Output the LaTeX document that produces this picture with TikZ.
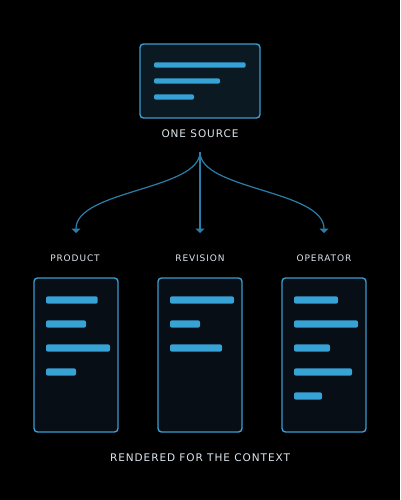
\documentclass[tikz,border=0pt]{standalone}
\usepackage{fontspec}
\setmainfont{DejaVu Sans}
\newfontfamily\lblA[LetterSpace=9]{DejaVu Sans}
\newfontfamily\lblB[LetterSpace=10]{DejaVu Sans}
\usetikzlibrary{arrows.meta}
\definecolor{bg}{HTML}{000000}
\definecolor{edge}{HTML}{3A9CCF}
\definecolor{barc}{HTML}{36A2D6}
\definecolor{conn}{HTML}{2C7DA8}
\definecolor{topfill}{HTML}{0B1A22}
\definecolor{botfill}{HTML}{070E15}
\definecolor{txt}{HTML}{DCE5EC}
\tikzset{
  card/.style={draw=edge, line width=1.4pt, rounded corners=3.5pt, inner sep=0pt},
  bar/.style={fill=barc, rounded corners=2pt},
  biglbl/.style={text=txt, font=\lblA\fontsize{10.5}{12}\selectfont, inner sep=0pt},
  smalllbl/.style={text=txt, font=\lblB\fontsize{9}{11}\selectfont, inner sep=0pt},
  link/.style={draw=conn, line width=1.2pt, -{Triangle[width=9pt,length=4.5pt]}}
}
\begin{document}
\begin{tikzpicture}[x=1pt,y=-1pt]
\fill[bg] (0,0) rectangle (400,500);
\useasboundingbox (0,0) rectangle (400,500);
% top source card
\node[card, fill=topfill, minimum width=120pt, minimum height=74pt] (src) at (200,81) {};
\fill[bar] (154,62.3) rectangle (245.7,67.7);
\fill[bar] (154,78.3) rectangle (220,83.7);
\fill[bar] (154,94.3) rectangle (194,99.7);
\node[biglbl] (srclbl) at (200,134) {ONE SOURCE};
\coordinate (fork) at (200,152);
% labels
\node[smalllbl] (lp) at (75,258) {PRODUCT};
\node[smalllbl] (lr) at (200,258) {REVISION};
\node[smalllbl] (lo) at (324,258) {OPERATOR};
\coordinate (ep) at (76,233);
\coordinate (er) at (200,233);
\coordinate (eo) at (324,233);
% connectors
\draw[link] (fork) .. controls (200,190) and (76,190) .. (ep);
\draw[link] (fork) -- (er);
\draw[link] (fork) .. controls (200,190) and (324,190) .. (eo);
% bottom cards
\node[card, fill=botfill, minimum width=84pt, minimum height=154pt] (cp) at (76,355) {};
\node[card, fill=botfill, minimum width=84pt, minimum height=154pt] (cr) at (200,355) {};
\node[card, fill=botfill, minimum width=84pt, minimum height=154pt] (co) at (324,355) {};
% product bars
\fill[bar] (46,296.3) rectangle (97.7,303.7);
\fill[bar] (46,320.3) rectangle (86,327.7);
\fill[bar] (46,344.3) rectangle (110,351.7);
\fill[bar] (46,368.3) rectangle (76,375.7);
% revision bars
\fill[bar] (170,296.3) rectangle (234,303.7);
\fill[bar] (170,320.3) rectangle (200,327.7);
\fill[bar] (170,344.3) rectangle (222,351.7);
% operator bars
\fill[bar] (294,296.3) rectangle (338,303.7);
\fill[bar] (294,320.3) rectangle (358,327.7);
\fill[bar] (294,344.3) rectangle (330,351.7);
\fill[bar] (294,368.3) rectangle (352,375.7);
\fill[bar] (294,392.3) rectangle (322,399.7);
\node[biglbl] (foot) at (200,458) {RENDERED FOR THE CONTEXT};
\end{tikzpicture}
\end{document}
